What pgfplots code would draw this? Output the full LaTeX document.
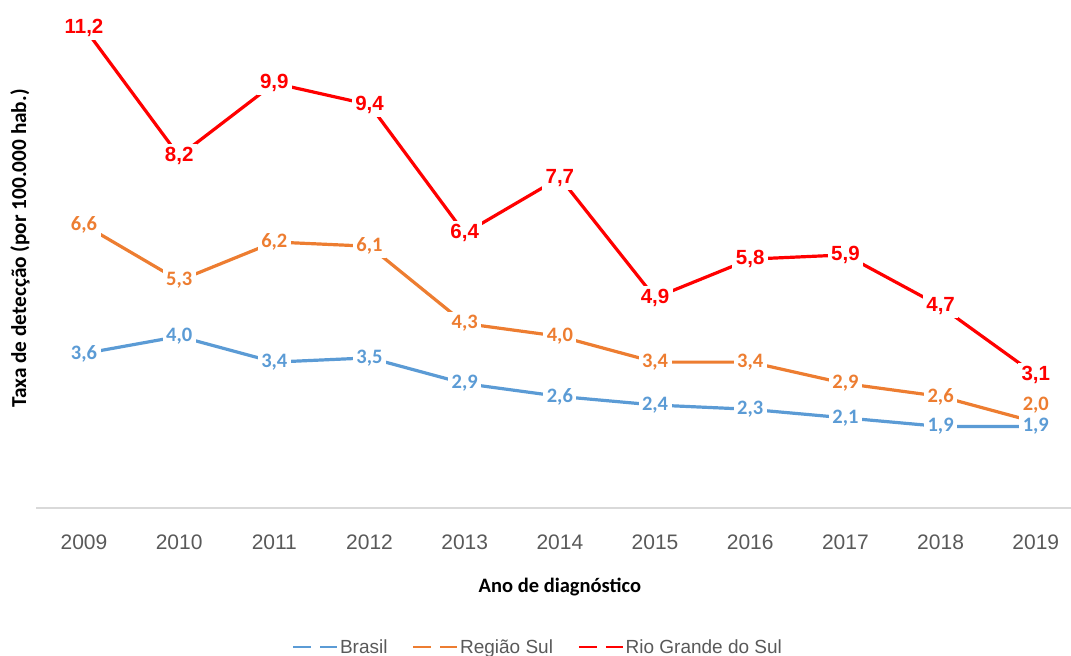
\documentclass[border=0pt]{standalone}
\usepackage{fontspec}
\setmainfont{Liberation Sans}
\newfontfamily\carlito{Carlito}
\usepackage{pgfplots}
\pgfplotsset{compat=1.18}
\definecolor{cblue}{HTML}{5B9BD5}
\definecolor{corange}{HTML}{ED7D31}
\definecolor{cred}{HTML}{FF0000}
\definecolor{tgray}{HTML}{595959}
\definecolor{agray}{HTML}{D9D9D9}
\pgfplotsset{
  lbl/.style={draw=none, mark=none, forget plot, point meta=y,
    nodes near coords={\pgfmathprintnumber[fixed,fixed zerofill,precision=1,use comma,assume math mode=true]{\pgfplotspointmeta}},
    nodes near coords style={anchor=center, fill=white, inner sep=3.5bp, text=#1}},
  clbl/.style={lbl=#1, nodes near coords style={font=\carlito\bfseries\fontsize{20.5bp}{24bp}\selectfont}},
  rlbl/.style={lbl=#1, nodes near coords style={font=\bfseries\fontsize{20.5bp}{24bp}\selectfont}},
}
\begin{document}
\begin{tikzpicture}
\path[use as bounding box] (0,0) rectangle (1071bp,656bp);
\begin{axis}[
  at={(36.4bp,148bp)}, anchor=south west,
  scale only axis, width=1034.6bp, height=508bp,
  xmin=-0.5, xmax=10.37, ymin=0, ymax=11.84,
  clip=false,
  axis x line*=bottom, axis y line*=left,
  x axis line style={draw=agray, line width=1.3bp, -},
  y axis line style={draw=none},
  ytick=\empty,
  xtick={0,...,10},
  xticklabels={2009,2010,2011,2012,2013,2014,2015,2016,2017,2018,2019},
  major tick length=0pt,
  xticklabel style={font=\fontsize{21bp}{25bp}\selectfont, text=tgray, anchor=center, yshift=-34.5bp},
  xlabel={Ano de diagnóstico},
  xlabel style={font=\carlito\bfseries\fontsize{20.5bp}{24bp}\selectfont, at={(axis description cs:0.506,-0.1555)}, anchor=center},
  ylabel={Taxa de detecção (por 100.000 hab.)},
  ylabel style={font=\carlito\bfseries\fontsize{21.3bp}{25bp}\selectfont, at={(axis description cs:-0.0159,0.511)}, anchor=center},
  legend columns=3,
  legend style={draw=none, fill=none, at={(axis description cs:0.485,-0.2736)}, anchor=center, font=\fontsize{19bp}{23bp}\selectfont, text=tgray,
    /tikz/every even column/.append style={column sep=23bp}},
  legend cell align=left,
  legend image code/.code={\draw[#1,line width=1.6bp] (0bp,0bp) -- (18bp,0bp); \draw[#1,line width=1.6bp] (27bp,0bp) -- (44bp,0bp);},
]
\addplot[cblue, line width=3.2bp, mark=none] coordinates {(0,3.6)(1,4.0)(2,3.4)(3,3.5)(4,2.9)(5,2.6)(6,2.4)(7,2.3)(8,2.1)(9,1.9)(10,1.9)};
\addlegendentry{Brasil}
\addplot[corange, line width=3.2bp, mark=none] coordinates {(0,6.6)(1,5.3)(2,6.2)(3,6.1)(4,4.3)(5,4.0)(6,3.4)(7,3.4)(8,2.9)(9,2.6)(10,2.0)};
\addlegendentry{Região Sul}
\addplot[cred, line width=3.2bp, mark=none] coordinates {(0,11.2)(1,8.2)(2,9.9)(3,9.4)(4,6.4)(5,7.7)(6,4.9)(7,5.8)(8,5.9)(9,4.7)(10,3.1)};
\addlegendentry{Rio Grande do Sul}
% data labels
\addplot[clbl=cblue] coordinates {(0,3.6)(1,4.0)(2,3.4)(3,3.5)(4,2.9)(5,2.6)(6,2.4)(7,2.3)(8,2.1)(9,1.9)(10,1.9)};
\addplot[clbl=corange] coordinates {(0,6.6)(1,5.3)(2,6.2)(3,6.1)(4,4.3)(5,4.0)(6,3.4)(7,3.4)(8,2.9)(9,2.6)};
\addplot[clbl=corange, nodes near coords style={yshift=17bp, fill=none}] coordinates {(10,2.0)};
\addplot[rlbl=cred] coordinates {(0,11.2)(1,8.2)(2,9.9)(3,9.4)(4,6.4)(5,7.7)(6,4.9)(7,5.8)(8,5.9)(9,4.7)(10,3.1)};
\end{axis}
\end{tikzpicture}
\end{document}
